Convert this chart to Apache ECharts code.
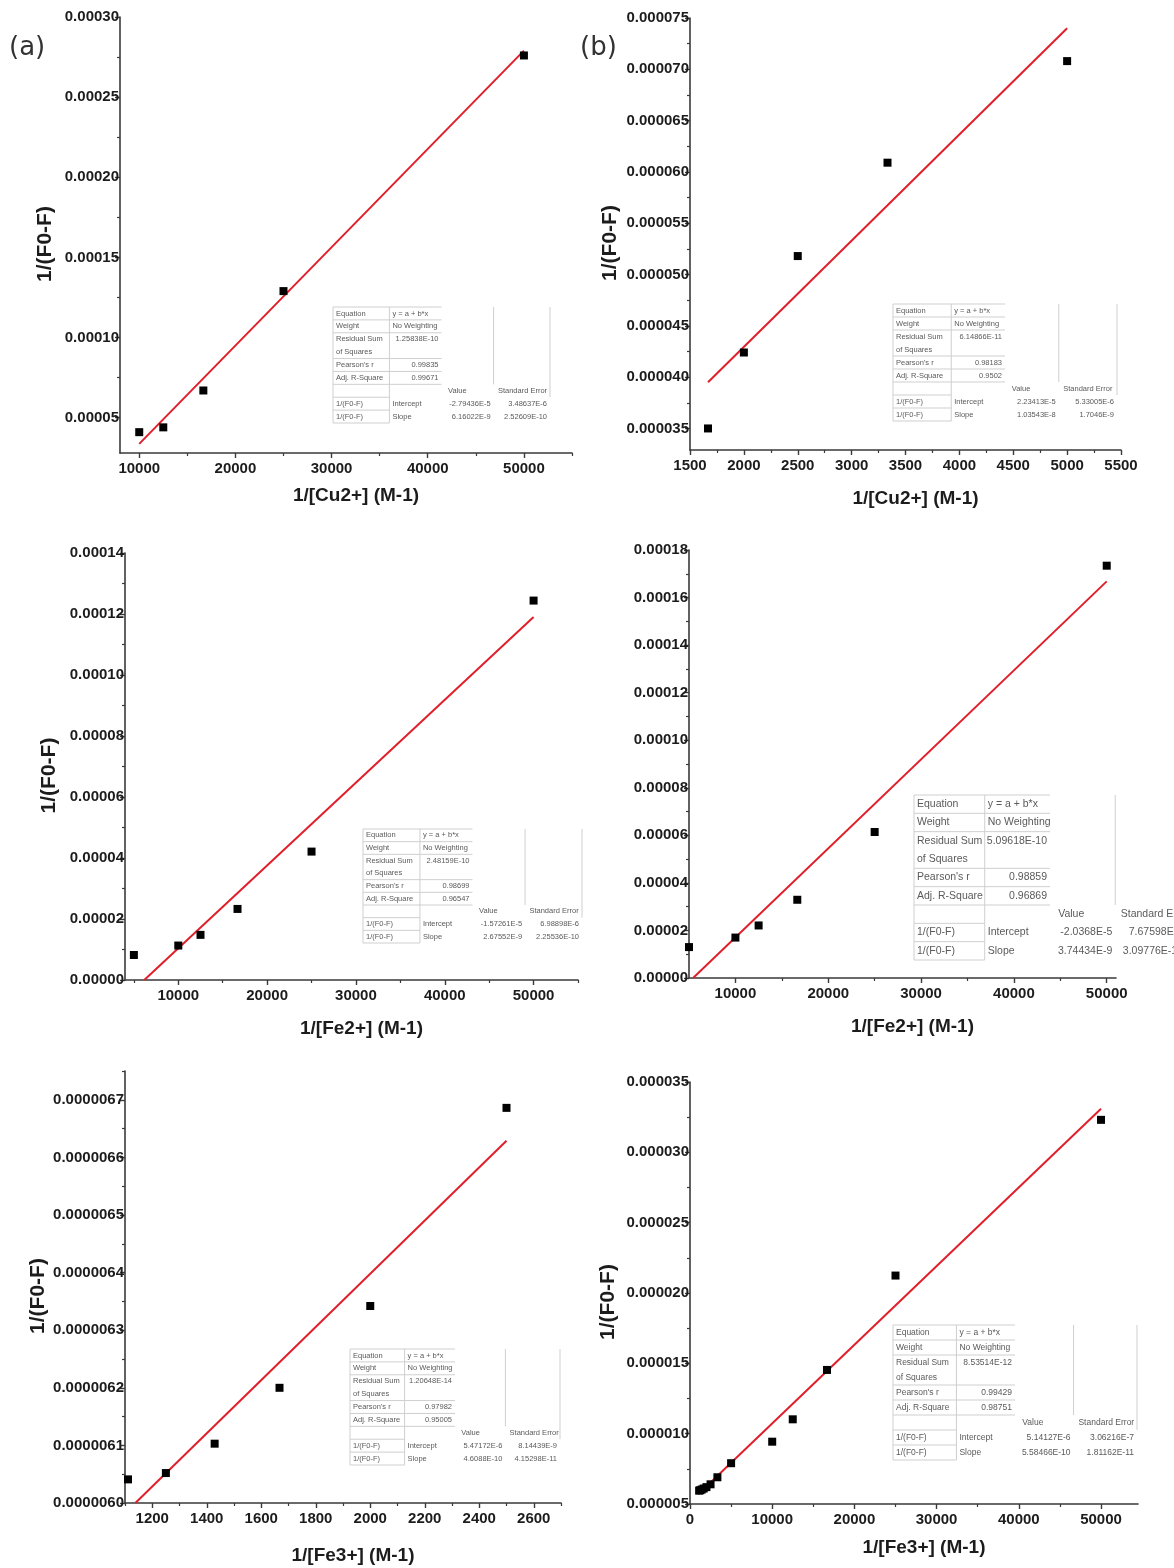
<!DOCTYPE html>
<html>
<head>
<meta charset="utf-8">
<script src="https://cdn.jsdelivr.net/npm/echarts@6/dist/echarts.min.js"></script>
<style>
  html, body { margin: 0; padding: 0; background: #fff; }
  #chart { width: 1174px; height: 1568px; }
</style>
</head>
<body>
<div id="chart"></div>
<script>
  // ---- values ----
  // (a) Cu2+
  var cuAX = [10000, 12500, 16667, 25000, 50000];
  var cuAY = [0.000041, 0.000044, 0.000067, 0.000129, 0.000276];
  var cuAFitX = [10000, 50000];
  var cuAFitY = [0.0000337, 0.000279];
  // (b) Cu2+
  var cuBX = [1667, 2000, 2500, 3333, 5000];
  var cuBY = [0.000035, 0.0000424, 0.0000518, 0.0000609, 0.0000708];
  var cuBFitX = [1667, 5000];
  var cuBFitY = [0.0000395, 0.000074];
  // (c) Fe2+
  var fe2AX = [5000, 10000, 12500, 16667, 25000, 50000];
  var fe2AY = [0.0000082, 0.0000113, 0.0000148, 0.0000233, 0.0000421, 0.0001244];
  var fe2AFitX = [6170, 50000];
  var fe2AFitY = [0, 0.000119];
  // (d) Fe2+
  var fe2BX = [5000, 10000, 12500, 16667, 25000, 50000];
  var fe2BY = [0.000013, 0.000017, 0.0000221, 0.0000329, 0.0000614, 0.0001734];
  var fe2BFitX = [5440, 50000];
  var fe2BFitY = [0, 0.0001668];
  // (e) Fe3+
  var fe3AX = [1111, 1250, 1429, 1667, 2000, 2500];
  var fe3AY = [0.000006041, 0.000006052, 0.000006103, 0.0000062, 0.000006342, 0.000006686];
  var fe3AFitX = [1138, 2500];
  var fe3AFitY = [0.000006, 0.000006629];
  // (f) Fe3+
  var fe3BX = [1111, 1250, 1429, 1667, 2000, 2500, 3333, 5000, 10000, 12500, 16667, 25000, 50000];
  var fe3BY = [0.00000595, 0.00000598, 0.00000603, 0.0000061, 0.0000062, 0.0000064, 0.0000069, 0.0000079,
               0.00000943, 0.00001102, 0.00001453, 0.00002124, 0.00003231];
  var fe3BFitX = [1000, 50000];
  var fe3BFitY = [0.0000057, 0.0000331];

  // ---- tick values ----
  var xTicksA = [10000, 20000, 30000, 40000, 50000];
  var xMinorA = [15000, 25000, 35000, 45000, 55000];
  var yTicksA = [0.00005, 0.0001, 0.00015, 0.0002, 0.00025, 0.0003];
  var yMinorA = [0.000075, 0.000125, 0.000175, 0.000225, 0.000275];

  var xTicksB = [1500, 2000, 2500, 3000, 3500, 4000, 4500, 5000, 5500];
  var xMinorB = [1750, 2250, 2750, 3250, 3750, 4250, 4750, 5250];
  var yTicksB = [0.000035, 0.00004, 0.000045, 0.00005, 0.000055, 0.00006, 0.000065, 0.00007, 0.000075];
  var yMinorB = [0.0000375, 0.0000425, 0.0000475, 0.0000525, 0.0000575, 0.0000625, 0.0000675, 0.0000725];

  var xTicksC = [10000, 20000, 30000, 40000, 50000];
  var xMinorC = [5000, 15000, 25000, 35000, 45000, 55000];
  var yTicksC = [0, 0.00002, 0.00004, 0.00006, 0.00008, 0.0001, 0.00012, 0.00014];
  var yMinorC = [0.00001, 0.00003, 0.00005, 0.00007, 0.00009, 0.00011, 0.00013];

  var xTicksD = [10000, 20000, 30000, 40000, 50000];
  var xMinorD = [15000, 25000, 35000, 45000];
  var yTicksD = [0, 0.00002, 0.00004, 0.00006, 0.00008, 0.0001, 0.00012, 0.00014, 0.00016, 0.00018];
  var yMinorD = [0.00001, 0.00003, 0.00005, 0.00007, 0.00009, 0.00011, 0.00013, 0.00015, 0.00017];

  var xTicksE = [1200, 1400, 1600, 1800, 2000, 2200, 2400, 2600];
  var xMinorE = [1100, 1300, 1500, 1700, 1900, 2100, 2300, 2500, 2700];
  var yTicksE = [0.000006, 0.0000061, 0.0000062, 0.0000063, 0.0000064, 0.0000065, 0.0000066, 0.0000067];
  var yMinorE = [0.00000605, 0.00000615, 0.00000625, 0.00000635, 0.00000645, 0.00000655, 0.00000665, 0.00000675];

  var xTicksF = [0, 10000, 20000, 30000, 40000, 50000];
  var xMinorF = [5000, 15000, 25000, 35000, 45000];
  var yTicksF = [0.000005, 0.00001, 0.000015, 0.00002, 0.000025, 0.00003, 0.000035];
  var yMinorF = [0.0000075, 0.0000125, 0.0000175, 0.0000225, 0.0000275, 0.0000325];

  // ---- fit report text ----
  var tableA = ['y = a + b*x', 'No Weighting', '1.25838E-10', '0.99835', '0.99671', '-2.79436E-5', '3.48637E-6', '6.16022E-9', '2.52609E-10'];
  var tableB = ['y = a + b*x', 'No Weighting', '6.14866E-11', '0.98183', '0.9502', '2.23413E-5', '5.33005E-6', '1.03543E-8', '1.7046E-9'];
  var tableC = ['y = a + b*x', 'No Weighting', '2.48159E-10', '0.98699', '0.96547', '-1.57261E-5', '6.98898E-6', '2.67552E-9', '2.25536E-10'];
  var tableD = ['y = a + b*x', 'No Weighting', '5.09618E-10', '0.98859', '0.96869', '-2.0368E-5', '7.67598E-6', '3.74434E-9', '3.09776E-10'];
  var tableE = ['y = a + b*x', 'No Weighting', '1.20648E-14', '0.97982', '0.95005', '5.47172E-6', '8.14439E-9', '4.6088E-10', '4.15298E-11'];
  var tableF = ['y = a + b*x', 'No Weighting', '8.53514E-12', '0.99429', '0.98751', '5.14127E-6', '3.06216E-7', '5.58466E-10', '1.81162E-11'];

  var FONT = '"Liberation Sans", Arial, sans-serif';
  var AXIS_COLOR = '#3a3a3a';
  var FIT_COLOR = '#e01f2b';

  var panels = [
    { left: 120, top: 17, width: 452, height: 436, xMin: 8000, xMax: 55000, yMin: 0.000028, yMax: 0.0003,
      xTicks: xTicksA, xMinor: xMinorA, yTicks: yTicksA, yMinor: yMinorA, yDec: 5,
      xName: '1/[Cu2+] (M-1)', xGap: 33, yName: '1/(F0-F)', yGap: 64,
      px: cuAX, py: cuAY, fx: cuAFitX, fy: cuAFitY,
      table: { x: 333, y: 307, w: 217, h: 116, fs: 7.5, vals: tableA } },
    { left: 690, top: 18, width: 431, height: 432, xMin: 1500, xMax: 5500, yMin: 0.0000329, yMax: 0.000075,
      xTicks: xTicksB, xMinor: xMinorB, yTicks: yTicksB, yMinor: yMinorB, yDec: 6,
      xName: '1/[Cu2+] (M-1)', xGap: 39, yName: '1/(F0-F)', yGap: 69,
      px: cuBX, py: cuBY, fx: cuBFitX, fy: cuBFitY,
      table: { x: 893, y: 304, w: 224, h: 117, fs: 7.5, vals: tableB } },
    { left: 125, top: 553, width: 453, height: 427, xMin: 4000, xMax: 55000, yMin: 0, yMax: 0.00014,
      xTicks: xTicksC, xMinor: xMinorC, yTicks: yTicksC, yMinor: yMinorC, yDec: 5,
      xName: '1/[Fe2+] (M-1)', xGap: 39, yName: '1/(F0-F)', yGap: 65,
      px: fe2AX, py: fe2AY, fx: fe2AFitX, fy: fe2AFitY,
      table: { x: 363, y: 829, w: 219, h: 114, fs: 7.5, vals: tableC } },
    { left: 689, top: 550, width: 427, height: 428, xMin: 5000, xMax: 51000, yMin: 0, yMax: 0.00018,
      xTicks: xTicksD, xMinor: xMinorD, yTicks: yTicksD, yMinor: yMinorD, yDec: 5,
      xName: '1/[Fe2+] (M-1)', xGap: 39, yName: '', yGap: 60,
      px: fe2BX, py: fe2BY, fx: fe2BFitX, fy: fe2BFitY,
      table: { x: 914, y: 795, w: 272, h: 165, fs: 10.5, vals: tableD } },
    { left: 125, top: 1071, width: 436, height: 432, xMin: 1100, xMax: 2700, yMin: 0.000006, yMax: 0.00000675,
      xTicks: xTicksE, xMinor: xMinorE, yTicks: yTicksE, yMinor: yMinorE, yDec: 7,
      xName: '1/[Fe3+] (M-1)', xGap: 43, yName: '1/(F0-F)', yGap: 76,
      px: fe3AX, py: fe3AY, fx: fe3AFitX, fy: fe3AFitY,
      table: { x: 350, y: 1349, w: 210, h: 116, fs: 7.5, vals: tableE } },
    { left: 690, top: 1082, width: 448, height: 422, xMin: 0, xMax: 54500, yMin: 0.000005, yMax: 0.000035,
      xTicks: xTicksF, xMinor: xMinorF, yTicks: yTicksF, yMinor: yMinorF, yDec: 6,
      xName: '1/[Fe3+] (M-1)', xGap: 34, yName: '1/(F0-F)', yGap: 71,
      px: fe3BX, py: fe3BY, fx: fe3BFitX, fy: fe3BFitY,
      table: { x: 893, y: 1325, w: 244, h: 135, fs: 8.5, vals: tableF } }
  ];

  function pairs(xs, ys) {
    return xs.map(function (x, k) { return [x, ys[k]]; });
  }

  // Origin style fit report drawn as plain graphic elements
  function tableGraphics(t) {
    var els = [];
    var L = t.x, T = t.y, W = t.w, H = t.h, u = H / 9;
    var c = [0, 0.26, 0.5, 0.74, 1].map(function (f) { return L + f * W; });
    var pad = 3;
    function ln(x1, y1, x2, y2) {
      els.push({ type: 'line', silent: true,
        shape: { x1: x1, y1: y1, x2: x2, y2: y2 },
        style: { stroke: '#cfcfcf', lineWidth: 1 } });
    }
    function tx(s, x, row, align) {
      els.push({ type: 'text', silent: true, x: x, y: T + row * u,
        style: { text: s, fontSize: t.fs, fontFamily: FONT, fill: '#5a5a5a',
          align: align || 'left', verticalAlign: 'middle' } });
    }
    [0, 1, 2, 4, 5, 6].forEach(function (k) { ln(c[0], T + k * u, c[2], T + k * u); });
    [7, 8, 9].forEach(function (k) { ln(c[0], T + k * u, c[1], T + k * u); });
    ln(c[0], T, c[0], T + H);
    ln(c[1], T, c[1], T + H);
    ln(c[3], T, c[3], T + 6 * u);
    ln(c[4], T, c[4], T + 7 * u);

    var v = t.vals;
    tx('Equation', c[0] + pad, 0.5);       tx(v[0], c[1] + pad, 0.5);
    tx('Weight', c[0] + pad, 1.5);         tx(v[1], c[1] + pad, 1.5);
    tx('Residual Sum', c[0] + pad, 2.5);   tx(v[2], c[2] - pad, 2.5, 'right');
    tx('of Squares', c[0] + pad, 3.5);
    tx("Pearson's r", c[0] + pad, 4.5);    tx(v[3], c[2] - pad, 4.5, 'right');
    tx('Adj. R-Square', c[0] + pad, 5.5);  tx(v[4], c[2] - pad, 5.5, 'right');
    tx('Value', c[2] + 0.03 * W, 6.5);     tx('Standard Error', c[3] + 0.02 * W, 6.5);
    tx('1/(F0-F)', c[0] + pad, 7.5);       tx('Intercept', c[1] + pad, 7.5);
    tx(v[5], c[3] - pad, 7.5, 'right');    tx(v[6], c[4] - pad, 7.5, 'right');
    tx('1/(F0-F)', c[0] + pad, 8.5);       tx('Slope', c[1] + pad, 8.5);
    tx(v[7], c[3] - pad, 8.5, 'right');    tx(v[8], c[4] - pad, 8.5, 'right');
    return els;
  }

  var grids = [], xAxes = [], yAxes = [], series = [], graphics = [];

  panels.forEach(function (p, i) {
    grids.push({ left: p.left, top: p.top, width: p.width, height: p.height,
      containLabel: false, outerBoundsMode: 'none' });

    var labelStyle = { color: '#1c1c1c', fontWeight: 'bold', fontSize: 15, fontFamily: FONT };

    // main x axis (major ticks and labels)
    xAxes.push({
      type: 'value', gridIndex: i, min: p.xMin, max: p.xMax, position: 'bottom',
      axisLine: { show: true, onZero: false, lineStyle: { color: AXIS_COLOR, width: 1.6 } },
      axisTick: { show: true, customValues: p.xTicks, length: 5, lineStyle: { color: AXIS_COLOR, width: 1.4 } },
      axisLabel: Object.assign({ customValues: p.xTicks, margin: 8,
        formatter: function (val) { return String(val); } }, labelStyle),
      splitLine: { show: false },
      name: p.xName, nameLocation: 'middle', nameGap: p.xGap,
      nameTextStyle: { color: '#1c1c1c', fontWeight: 'bold', fontSize: 19, fontFamily: FONT, padding: [0, 0, 0, 20] }
    });
    // minor x ticks
    xAxes.push({
      type: 'value', gridIndex: i, min: p.xMin, max: p.xMax, position: 'bottom',
      axisLine: { show: false, onZero: false },
      axisTick: { show: true, customValues: p.xMinor, length: 3, lineStyle: { color: AXIS_COLOR, width: 1.2 } },
      axisLabel: { show: false },
      splitLine: { show: false }
    });

    var dec = p.yDec;
    yAxes.push({
      type: 'value', gridIndex: i, min: p.yMin, max: p.yMax, position: 'left',
      axisLine: { show: true, onZero: false, lineStyle: { color: AXIS_COLOR, width: 1.6 } },
      axisTick: { show: true, customValues: p.yTicks, length: 5, lineStyle: { color: AXIS_COLOR, width: 1.4 } },
      axisLabel: Object.assign({ customValues: p.yTicks, margin: 1,
        formatter: function (val) { return val.toFixed(dec); } }, labelStyle),
      splitLine: { show: false },
      name: p.yName, nameLocation: 'middle', nameGap: p.yGap, nameRotate: 90,
      nameTextStyle: { color: '#1c1c1c', fontWeight: 'bold', fontSize: 21, fontFamily: FONT, padding: [0, 18, 0, 0] }
    });
    yAxes.push({
      type: 'value', gridIndex: i, min: p.yMin, max: p.yMax, position: 'left',
      axisLine: { show: false, onZero: false },
      axisTick: { show: true, customValues: p.yMinor, length: 3, lineStyle: { color: AXIS_COLOR, width: 1.2 } },
      axisLabel: { show: false },
      splitLine: { show: false }
    });

    series.push({
      type: 'line', xAxisIndex: 2 * i, yAxisIndex: 2 * i,
      data: pairs(p.fx, p.fy), symbol: 'none', silent: true,
      lineStyle: { color: FIT_COLOR, width: 2 }, z: 2
    });
    series.push({
      type: 'scatter', xAxisIndex: 2 * i, yAxisIndex: 2 * i,
      data: pairs(p.px, p.py), symbol: 'rect', symbolSize: 8,
      itemStyle: { color: '#000', opacity: 1 }, z: 3
    });

    graphics = graphics.concat(tableGraphics(p.table));
  });

  graphics.push({ type: 'text', silent: true, x: 9, y: 48,
    style: { text: '(a)', fontSize: 26, fontFamily: '"DejaVu Sans", sans-serif', fill: '#333', verticalAlign: 'middle' } });
  graphics.push({ type: 'text', silent: true, x: 580, y: 48,
    style: { text: '(b)', fontSize: 26, fontFamily: '"DejaVu Sans", sans-serif', fill: '#333', verticalAlign: 'middle' } });

  var chart = echarts.init(document.getElementById('chart'));
  var option = {
    backgroundColor: '#fff',
    animation: false,
    grid: grids,
    xAxis: xAxes,
    yAxis: yAxes,
    series: series,
    graphic: { elements: graphics }
  };
  chart.setOption(option);
</script>
</body>
</html>
